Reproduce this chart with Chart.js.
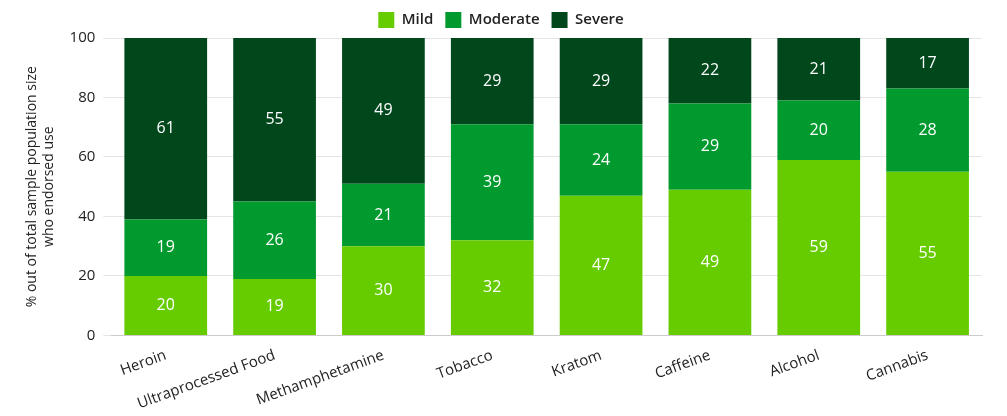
<!DOCTYPE html>
<html><head><meta charset="utf-8">
<script src="https://cdn.jsdelivr.net/npm/chart.js@4"></script>
<style>html,body{margin:0;padding:0;background:#fff}#w{width:1007px;height:416px}</style>
</head><body><div id="w"><canvas id="c"></canvas></div>
<script>
const categories = ["Heroin","Ultraprocessed Food","Methamphetamine","Tobacco","Kratom","Caffeine","Alcohol","Cannabis"];
const mild = [20,19,30,32,47,49,59,55];
const moderate = [19,26,21,39,24,29,20,28];
const severe = [61,55,49,29,29,22,21,17];
const yTicks = [0,20,40,60,80,100];
Chart.defaults.font.family = "'Open Sans', sans-serif";
Chart.defaults.color = "#222";
const labelPlugin = {
  id:'lbl',
  afterDatasetsDraw(chart){
    const ctx = chart.ctx;
    ctx.save();
    ctx.fillStyle = '#fff';
    ctx.font = "16px 'Open Sans'";
    ctx.textAlign = 'center'; ctx.textBaseline = 'middle';
    chart.data.datasets.forEach((ds,i)=>{
      chart.getDatasetMeta(i).data.forEach((el,j)=>{
        const p = el.getProps(['x','y','base'],true);
        ctx.fillText(ds.data[j], p.x, (p.y+p.base)/2);
      });
    });
    ctx.restore();
  }
};
new Chart(document.getElementById('c'), {
  type:'bar',
  data:{labels:categories, datasets:[
    {label:'Mild', data:mild, backgroundColor:'#66cc00'},
    {label:'Moderate', data:moderate, backgroundColor:'#009a2e'},
    {label:'Severe', data:severe, backgroundColor:'#00481c'}
  ].map(d=>Object.assign(d,{barPercentage:0.76,categoryPercentage:1}))},
  options:{
    responsive:true, maintainAspectRatio:false, animation:false,
    layout:{padding:{left:20,right:25,top:0,bottom:0}},
    plugins:{
      legend:{position:'top', labels:{boxWidth:16,boxHeight:16,padding:12,font:{size:15,weight:'600'}}},
      tooltip:{enabled:false}
    },
    scales:{
      x:{stacked:true, grid:{display:false}, border:{color:'#ccc'},
         ticks:{maxRotation:20,minRotation:20,font:{size:15}}},
      y:{stacked:true, min:0, max:100, afterBuildTicks(ax){ax.ticks=yTicks.map(v=>({value:v}));},
         grid:{color:'#e5e5e5'}, border:{display:false},
         ticks:{font:{size:15},padding:8},
         title:{display:true,text:['% out of total sample population size','who endorsed use'],font:{size:14},padding:4}}
    }
  },
  plugins:[labelPlugin]
});
</script></body></html>
